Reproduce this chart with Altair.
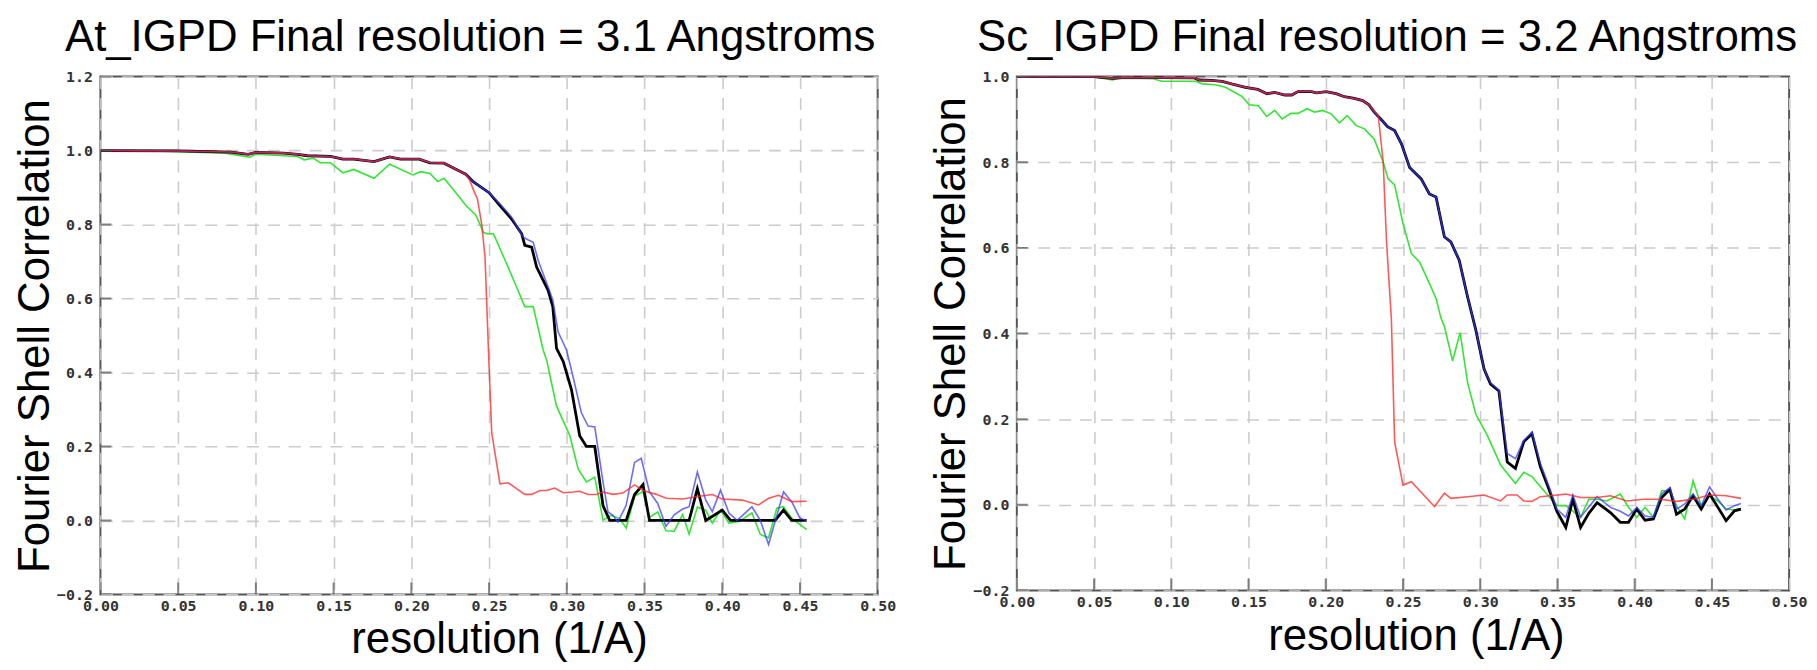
import altair as alt
import pandas as pd

# ---------------- data ----------------
X_TICKS = [0.0, 0.05, 0.10, 0.15, 0.20, 0.25, 0.30, 0.35, 0.40, 0.45, 0.50]
Y_TICKS_L = [-0.2, 0.0, 0.2, 0.4, 0.6, 0.8, 1.0, 1.2]
Y_TICKS_R = [-0.2, 0.0, 0.2, 0.4, 0.6, 0.8, 1.0]

# ---- left panel: At_IGPD ----
L_TOP_X = [0.0, 0.05, 0.084, 0.095, 0.100, 0.118, 0.127, 0.133, 0.148, 0.156,
           0.163, 0.176, 0.186, 0.193, 0.205, 0.212, 0.221, 0.229, 0.235]
L_TOP_Y = [1.0, 0.999, 0.996, 0.990, 0.995, 0.993, 0.990, 0.986, 0.984, 0.977,
           0.977, 0.970, 0.983, 0.977, 0.977, 0.967, 0.966, 0.949, 0.936]

L_BLACK_X = [0.240, 0.250, 0.257, 0.2645, 0.271, 0.273, 0.2774, 0.2806, 0.288, 0.291,
             0.2934, 0.2977, 0.303, 0.3083, 0.3126, 0.318, 0.3212, 0.3233, 0.3276, 0.3382,
             0.3436, 0.349, 0.3532, 0.3787, 0.384, 0.3894, 0.400, 0.4053, 0.434, 0.4394,
             0.4447, 0.4543]
L_BLACK_Y = [0.915, 0.886, 0.851, 0.815, 0.775, 0.744, 0.739, 0.685, 0.622, 0.578,
             0.465, 0.43, 0.354, 0.229, 0.2, 0.2, 0.104, 0.04, 0.0, 0.0,
             0.07, 0.097, 0.0, 0.0, 0.086, 0.0, 0.028, 0.0, 0.0, 0.028,
             0.0, 0.0]

L_BLUE_X = [0.240, 0.250, 0.257, 0.2645, 0.272, 0.275, 0.2784, 0.2816, 0.288, 0.291,
            0.2944, 0.2998, 0.304, 0.3094, 0.3137, 0.318, 0.3233, 0.3265, 0.3297, 0.3329,
            0.3382, 0.3436, 0.3479, 0.3532, 0.3585, 0.3638, 0.3691, 0.3745, 0.3787, 0.384,
            0.3894, 0.3936, 0.3989, 0.4043, 0.4096, 0.4191, 0.4245, 0.4298, 0.4394, 0.4447,
            0.45, 0.4543]
L_BLUE_Y = [0.915, 0.886, 0.856, 0.82, 0.766, 0.759, 0.752, 0.703, 0.631, 0.596,
            0.51, 0.461, 0.389, 0.291, 0.255, 0.253, 0.104, 0.023, 0.014, -0.004,
            0.041, 0.157, 0.168, 0.077, 0.046, -0.016, 0.015, 0.031, 0.037, 0.131,
            0.055, 0.024, 0.082, 0.02, 0.0, 0.037, 0.0, -0.065, 0.077, 0.051,
            0.006, 0.0]

L_RED_X = [0.2375, 0.240, 0.2425, 0.2453, 0.2474, 0.2496, 0.2517, 0.257, 0.2624, 0.2677,
           0.273, 0.2774, 0.2827, 0.287, 0.2923, 0.2977, 0.304, 0.3083, 0.3137, 0.319,
           0.3233, 0.3297, 0.336, 0.3436, 0.349, 0.3575, 0.364, 0.3745, 0.383, 0.3936,
           0.400, 0.4128, 0.4234, 0.4298, 0.4362, 0.4447, 0.4543]
L_RED_Y = [0.92, 0.893, 0.87, 0.80, 0.712, 0.461, 0.2375, 0.099, 0.102, 0.086,
           0.0705, 0.0705, 0.081, 0.081, 0.0875, 0.075, 0.077, 0.079, 0.07, 0.07,
           0.077, 0.0705, 0.074, 0.096, 0.081, 0.0705, 0.06, 0.058, 0.064, 0.07,
           0.058, 0.055, 0.042, 0.06, 0.068, 0.051, 0.052]

L_GREEN_X = [0.0, 0.04, 0.080, 0.096, 0.100, 0.127, 0.131, 0.137, 0.1415, 0.148,
             0.156, 0.163, 0.176, 0.186, 0.201, 0.206, 0.212, 0.217, 0.221, 0.228,
             0.235, 0.2415, 0.2464, 0.2485, 0.2528, 0.2613, 0.2677, 0.273, 0.2784, 0.2848,
             0.287, 0.2934, 0.302, 0.3073, 0.3126, 0.318, 0.3233, 0.3286, 0.334, 0.3382,
             0.3436, 0.349, 0.3532, 0.3585, 0.3638, 0.3691, 0.3745, 0.3787, 0.384, 0.3894,
             0.3936, 0.3989, 0.4043, 0.4106, 0.4191, 0.4245, 0.4298, 0.4351, 0.4394, 0.4447,
             0.4543]
L_GREEN_Y = [1.0, 0.998, 0.993, 0.982, 0.99, 0.984, 0.975, 0.979, 0.967, 0.967,
             0.94, 0.949, 0.925, 0.963, 0.934, 0.943, 0.938, 0.916, 0.925, 0.889,
             0.852, 0.825, 0.779, 0.775, 0.775, 0.694, 0.631, 0.578, 0.578, 0.461,
             0.434, 0.309, 0.229, 0.139, 0.104, 0.117, 0.001, 0.014, 0.005, -0.021,
             0.066, 0.078, 0.008, 0.023, -0.028, -0.029, 0.016, -0.037, 0.036, 0.028,
             -0.007, 0.028, -0.007, -0.003, 0.02, -0.038, -0.047, 0.033, 0.037, 0.006,
             -0.025]

# ---- right panel: Sc_IGPD ----
R_TOP_X = [0.0, 0.05, 0.062, 0.07, 0.115, 0.118, 0.126, 0.133, 0.139, 0.148,
           0.156, 0.162, 0.167, 0.1735, 0.178, 0.182, 0.1907, 0.194, 0.2003, 0.2067,
           0.212, 0.2185, 0.2239, 0.228]
R_TOP_Y = [1.0, 1.0, 0.996, 0.998, 0.997, 0.992, 0.991, 0.989, 0.983, 0.975,
           0.970, 0.960, 0.963, 0.957, 0.957, 0.965, 0.965, 0.962, 0.965, 0.960,
           0.953, 0.949, 0.944, 0.934]

R_TAIL_X = [0.2314, 0.2356, 0.240, 0.2446, 0.249, 0.2543, 0.2618, 0.2671, 0.2714, 0.2768,
            0.281, 0.2864, 0.2918, 0.2971, 0.3025, 0.3067, 0.3121, 0.3175, 0.3228, 0.3282,
            0.3335, 0.3389, 0.3442, 0.3496, 0.3554, 0.36, 0.365, 0.3703, 0.3757, 0.3843,
            0.3907, 0.396, 0.4014, 0.4067, 0.4121, 0.4175, 0.4228, 0.4271, 0.4324, 0.4378,
            0.4431, 0.4485, 0.4539, 0.4592, 0.4646, 0.4688]
R_BLACK_Y = [0.917, 0.901, 0.883, 0.874, 0.843, 0.788, 0.761, 0.726, 0.719, 0.626,
             0.614, 0.571, 0.486, 0.409, 0.317, 0.282, 0.266, 0.1, 0.085, 0.147,
             0.166, 0.089, 0.039, -0.015, -0.053, 0.013, -0.053, -0.02, 0.005, -0.018,
             -0.041, -0.041, -0.01, -0.036, -0.033, 0.017, 0.036, -0.022, -0.01, 0.021,
             -0.01, 0.025, -0.006, -0.037, -0.014, -0.01]
R_BLUE_Y = [0.917, 0.901, 0.883, 0.874, 0.843, 0.788, 0.761, 0.726, 0.719, 0.626,
            0.614, 0.571, 0.486, 0.409, 0.317, 0.285, 0.268, 0.12, 0.108, 0.15,
            0.17, 0.097, 0.046, -0.01, -0.029, 0.023, -0.029, -0.005, 0.019, -0.006,
            -0.015, -0.026, -0.006, -0.026, -0.029, 0.025, 0.04, -0.01, 0.002, 0.025,
            -0.002, 0.042, 0.013, -0.012, -0.002, 0.003]

R_RED_X = [0.2297, 0.234, 0.2372, 0.2393, 0.2425, 0.2446, 0.25, 0.2554, 0.2704, 0.2768,
           0.281, 0.2918, 0.3025, 0.3132, 0.3175, 0.3239, 0.3282, 0.3335, 0.3389, 0.35,
           0.3554, 0.365, 0.3757, 0.3843, 0.3950, 0.4057, 0.4164, 0.4271, 0.4378, 0.4485,
           0.4592, 0.4688]
R_RED_Y = [0.928, 0.909, 0.80, 0.618, 0.432, 0.147, 0.046, 0.054, -0.004, 0.027,
           0.015, 0.019, 0.023, 0.009, 0.023, 0.023, 0.009, 0.008, 0.019, 0.023,
           0.025, 0.017, 0.017, 0.021, 0.009, 0.013, 0.013, 0.008, 0.013, 0.023,
           0.021, 0.015]

R_GREEN_X = [0.0, 0.05, 0.062, 0.066, 0.088, 0.094, 0.1157, 0.12, 0.1285, 0.135,
             0.1457, 0.1504, 0.1564, 0.1617, 0.167, 0.1718, 0.1774, 0.182, 0.1879, 0.1928,
             0.198, 0.2035, 0.2089, 0.2138, 0.2196, 0.225, 0.2314, 0.2372, 0.2404, 0.2446,
             0.25, 0.2554, 0.2607, 0.2671, 0.2714, 0.2746, 0.2768, 0.2821, 0.287, 0.2918,
             0.2971, 0.3046, 0.3132, 0.3228, 0.3282, 0.3335, 0.3389, 0.3453, 0.35, 0.3554,
             0.365, 0.3703, 0.3757, 0.3821, 0.3907, 0.396, 0.4014, 0.4067, 0.4121, 0.4175,
             0.4228, 0.4271, 0.4324, 0.4378, 0.4431, 0.4485, 0.4539, 0.4592, 0.4646, 0.4688]
R_GREEN_Y = [1.0, 0.999, 0.992, 0.996, 0.995, 0.989, 0.989, 0.983, 0.981, 0.975,
             0.954, 0.934, 0.932, 0.907, 0.921, 0.901, 0.914, 0.914, 0.925, 0.917,
             0.921, 0.913, 0.892, 0.909, 0.886, 0.878, 0.854, 0.80, 0.761, 0.747,
             0.657, 0.587, 0.567, 0.517, 0.482, 0.436, 0.417, 0.336, 0.402, 0.286,
             0.212, 0.162, 0.093, 0.05, 0.076, 0.066, 0.043, 0.016, -0.002, -0.002,
             -0.029, 0.013, 0.013, 0.009, 0.025, -0.006, -0.029, -0.006, -0.029, 0.033,
             0.033, -0.002, -0.033, 0.056, -0.002, 0.021, 0.009, -0.01, -0.012, -0.009]

# ---------------- styling ----------------
SANS = "Liberation Sans"
MONO = "DejaVu Sans Mono"
TITLE_SIZE = 44
GREEN, BLUE, BLACK, RED = "#33e633", "#3a3aff", "#000000", "#ff2020"


def df(xs, ys):
    return pd.DataFrame({"x": xs, "y": ys})


def make_panel(title_text, title_dx, curves, ymin, ymax, yticks, w, h,
               ytitle_x, xtitle_dx, xtitle_y, title_offset):
    xs = alt.Scale(domain=[0, 0.5], nice=False, zero=False)
    ys = alt.Scale(domain=[ymin, ymax], nice=False, zero=False)
    common = dict(grid=True, gridDash=[12, 9], gridColor="#cccccc", gridWidth=1.6,
                  ticks=False, domain=False, labelFont=MONO, labelFontWeight="bold",
                  labelFontSize=15, labelColor="#333333", labelOverlap=False,
                  labelFlush=False, titleFont=SANS, titleFontSize=TITLE_SIZE,
                  titleFontWeight="normal", titleColor="#000000")
    xaxis = alt.Axis(values=X_TICKS, format=".2f", title="resolution (1/A)",
                     labelPadding=4, titleX=w / 2 + xtitle_dx, titleY=xtitle_y,
                     titleBaseline="alphabetic", titleAlign="center", **common)
    yaxis = alt.Axis(values=yticks, format=".1f", title="Fourier Shell Correlation",
                     labelPadding=8, titleX=ytitle_x, titleY=h / 2, titleAngle=270,
                     titleBaseline="alphabetic", titleAlign="center", **common)

    layers = []
    for (xv, yv, color, width, opacity) in curves:
        layers.append(
            alt.Chart(df(xv, yv)).mark_line(color=color, strokeWidth=width,
                                            opacity=opacity, clip=True)
            .encode(x=alt.X("x:Q", scale=xs, axis=xaxis),
                    y=alt.Y("y:Q", scale=ys, axis=yaxis))
        )

    xt = alt.Chart(pd.DataFrame({"x": X_TICKS})).mark_tick(
        orient="vertical", size=24, thickness=2, color="#555555", clip=True
    ).encode(x=alt.X("x:Q", scale=xs, axis=xaxis), y=alt.datum(ymin))
    yt = alt.Chart(pd.DataFrame({"y": yticks})).mark_tick(
        orient="horizontal", size=22, thickness=2, color="#555555", clip=True
    ).encode(y=alt.Y("y:Q", scale=ys, axis=yaxis), x=alt.datum(0))
    layers += [xt, yt]

    return alt.layer(*layers).properties(
        width=w, height=h,
        title=alt.TitleParams(title_text, font=SANS, fontSize=TITLE_SIZE,
                              fontWeight="normal", color="#000000", anchor="middle",
                              dx=title_dx, offset=title_offset, baseline="alphabetic",
                              frame="group"),
    )


left = make_panel(
    "At_IGPD Final resolution = 3.1 Angstroms", -19,
    [
        (L_GREEN_X, L_GREEN_Y, GREEN, 1.6, 1.0),
        (L_TOP_X + L_BLACK_X, L_TOP_Y + L_BLACK_Y, BLACK, 2.8, 1.0),
        (L_TOP_X + L_BLUE_X, L_TOP_Y + L_BLUE_Y, BLUE, 1.6, 0.75),
        (L_TOP_X + L_RED_X, L_TOP_Y + L_RED_Y, RED, 1.6, 0.75),
    ],
    -0.2, 1.2, Y_TICKS_L, 782, 521, -52, 10, 58, -25,
)

right = make_panel(
    "Sc_IGPD Final resolution = 3.2 Angstroms", -16,
    [
        (R_GREEN_X, R_GREEN_Y, GREEN, 1.6, 1.0),
        (R_TOP_X + R_TAIL_X, R_TOP_Y + R_BLACK_Y, BLACK, 2.8, 1.0),
        (R_TOP_X + R_TAIL_X, R_TOP_Y + R_BLUE_Y, BLUE, 1.6, 0.75),
        (R_TOP_X + R_RED_X, R_TOP_Y + R_RED_Y, RED, 1.6, 0.75),
    ],
    -0.2, 1.0, Y_TICKS_R, 777, 517, -53, 13, 59, -25,
)

chart = alt.hconcat(left, right, spacing=30).properties(
    padding={"left": 4, "top": 5, "right": 0, "bottom": 0},
    background="white",
).configure_view(stroke="#555555", strokeWidth=2)

chart.save("out.html", embed_options={"renderer": "svg", "actions": False})
